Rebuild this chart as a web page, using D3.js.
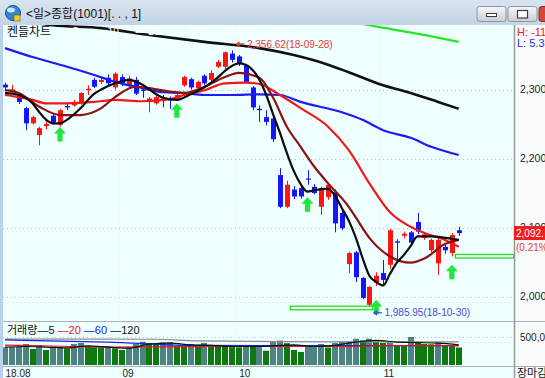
<!DOCTYPE html>
<html>
<head>
<meta charset="utf-8">
<script src="https://cdn.jsdelivr.net/npm/d3@7"></script>
<style>
  body { margin: 0; overflow: hidden; background: #fff; }
  svg { display: block; font-family: "Liberation Sans", "Noto Sans CJK KR", sans-serif; }
</style>
</head>
<body>
<svg width="545" height="378"></svg>
<script>
// daily candles [open, high, low, close], 18-08-08 .. 18-11-16
const candles = [
  [2307, 2310, 2300, 2303], [2296, 2307, 2294, 2300], [2289, 2291, 2279, 2282], [2273, 2275, 2241, 2251],
  [2251, 2262, 2249, 2260], [2234, 2246, 2219, 2244], [2247, 2255, 2242, 2250], [2262, 2266, 2249, 2252],
  [2249, 2272, 2246, 2270], [2276, 2280, 2270, 2274], [2277, 2285, 2275, 2282], [2280, 2296, 2278, 2295],
  [2299, 2306, 2292, 2301], [2314, 2317, 2302, 2304], [2311, 2318, 2308, 2314], [2317, 2322, 2306, 2309],
  [2303, 2325, 2300, 2323], [2318, 2322, 2305, 2309], [2305, 2320, 2302, 2316], [2314, 2318, 2292, 2294],
  [2300, 2303, 2288, 2298], [2282, 2289, 2267, 2287], [2280, 2291, 2278, 2289], [2287, 2292, 2274, 2284],
  [2286, 2290, 2272, 2284], [2287, 2294, 2284, 2292], [2306, 2320, 2304, 2318], [2315, 2317, 2300, 2303],
  [2302, 2313, 2298, 2311], [2320, 2322, 2306, 2309], [2314, 2328, 2311, 2324], [2333, 2343, 2331, 2340],
  [2333, 2355, 2330, 2354], [2352, 2356.62, 2339, 2343], [2348, 2350, 2334, 2338], [2335, 2337, 2309, 2311],
  [2303, 2305, 2270, 2274], [2272, 2277, 2253, 2270], [2260, 2270, 2248, 2253], [2258, 2262, 2224, 2228],
  [2176, 2186, 2128, 2130], [2130, 2168, 2128, 2162], [2155, 2160, 2141, 2145], [2157, 2160, 2142, 2145],
  [2171, 2183, 2162, 2170], [2159, 2163, 2148, 2150], [2130, 2159, 2118, 2157], [2144, 2165, 2140, 2162],
  [2151, 2155, 2093, 2106], [2121, 2124, 2096, 2099], [2047, 2065, 2034, 2063], [2064, 2066, 2021, 2028],
  [2027, 2028, 1996, 1998], [1988, 2015, 1985.95, 2014], [2020, 2035, 2015, 2030], [2034, 2053, 2018, 2024],
  [2046, 2098, 2040, 2096], [2080, 2083, 2049, 2078], [2088, 2094, 2084, 2091], [2093, 2095, 2075, 2078],
  [2108, 2121, 2090, 2094], [2085, 2093, 2082, 2090], [2067, 2084, 2064, 2082], [2048, 2085, 2031, 2082],
  [2072, 2075, 2062, 2067], [2063, 2092, 2058, 2089], [2096, 2101, 2088, 2092]
];
// volume, thousand shares
const volumes = [
  316, 320, 325, 375, 286, 357, 268, 316, 320, 298, 375, 393, 334, 316, 310, 334, 298, 268, 316, 375,
  416, 393, 375, 405, 410, 345, 334, 375, 345, 393, 334, 330, 325, 320, 315, 345, 334, 340, 255, 418,
  437, 390, 268, 232, 343, 357, 375, 312, 393, 418, 420, 468, 437, 470, 418, 393, 405, 357, 350, 500,
  393, 375, 370, 405, 357, 350, 312
];

// moving averages as [day index, value]
const ma5 = [[0,2295],[2,2292],[4,2280],[5,2267],[6,2256],[7,2251],[8,2251],[9,2256],[11,2273],[13,2294],
  [14,2300],[16,2309],[18,2314],[20,2307],[22,2293],[23,2288],[25,2285],[27,2293],[29,2303],[31,2318],
  [32,2327],[34,2338],[35,2336],[37,2314],[38,2292],[39,2264],[40,2237],[41,2208],[42,2182],[43,2163],
  [44,2152],[45,2154],[47,2156],[48,2146],[49,2128],[50,2110],[51,2086],[52,2056],[53,2030],[54,2021],
  [55,2016],[56,2033],[57,2049],[58,2060],[59,2073],[60,2087],[62,2087],[64,2085],[66,2082]];
const ma10 = [[0,2299],[2,2295],[5,2275],[8,2263],[11,2263],[14,2273],[16,2289],[19,2304],[21,2302],
  [24,2297],[26,2295],[29,2304],[32,2318],[34,2324],[37,2317],[39,2288],[41,2246],[43,2217],[45,2188],
  [47,2164],[50,2130],[51,2115],[53,2085],[56,2058],[59,2049],[61,2055],[64,2076],[66,2082]];
const ma20 = [[0,2292],[2,2289],[4,2285],[6,2280],[9,2280],[13,2282],[16,2285],[20,2283],[24,2286],
  [26,2292],[29,2299],[32,2309],[35,2310],[37,2308],[40,2292],[43,2273],[47,2246],[50,2212],[53,2164],
  [56,2122],[59,2101],[61,2092],[64,2082],[66,2072]];
const ma60 = [[0,2360],[4,2347],[9,2333],[13,2321],[16,2311],[20,2302],[23,2296],[26,2295],[29,2292],
  [33,2292],[37,2293],[40,2292],[43,2282],[49,2267],[52,2256],[55,2241],[59,2230],[62,2217],[66,2205]];
const ma120 = [[0,2404],[7,2393],[14,2389],[21,2379],[29,2369],[37,2360],[42,2350],[47,2336],[50,2325],
  [55,2306],[59,2295],[63,2282],[66,2272]];
const ma240 = [[42,2420],[52,2395],[57,2386],[62,2377],[66,2369]];

const volMa5 = [[0,320],[3,330],[6,320],[9,305],[12,340],[15,320],[18,300],[21,375],[24,390],[27,360],
  [30,350],[33,330],[36,330],[39,340],[42,360],[45,330],[48,350],[51,410],[54,440],[57,410],[60,400],
  [63,390],[66,360]];
const volMa20 = [[0,355],[8,335],[16,320],[24,325],[32,330],[40,330],[48,330],[56,345],[66,345]];
const volMa60 = [[0,450],[8,425],[17,400],[26,352],[43,345],[66,345]];
const volMa120 = [[0,462],[22,460],[28,430],[40,418],[66,412]];

const monthIdx = [0, 17, 34, 55];
const monthLabels = ['18.08', '09', '10', '11'];
const priceTicks = [2000, 2100, 2200, 2300];
const volTicks = [500];

const buySignals = [[8, 2245.6], [25, 2280], [44, 2144], [54, 1995], [65, 2046]];
const supportBoxes = [[41.5, 53.5, 1983], [65.5, 74, 2058]];
const highMark = { i: 33, v: 2356.62, text: '2,356.62(18-09-28)' };
const lowMark = { i: 53, v: 1985.95, text: '1,985.95(18-10-30)' };
const lastChange = '(0.21%)';

const svg = d3.select('svg');
const x = d3.scaleLinear().domain([0, 74]).range([5, 513.75]);
const y = d3.scaleLinear().domain([2000, 2300]).range([296.5, 89.5]);
const yv = d3.scaleLinear().domain([0, 500]).range([365, 337]);
const upColor = '#ff1414';
const downColor = '#1414ff';
const fmt = d3.format(',');

// ---- window chrome
const defs = svg.append('defs');
const tg = defs.append('linearGradient').attr('id', 'title-bg').attr('x1', 0).attr('y1', 0).attr('x2', 0).attr('y2', 1);
tg.append('stop').attr('offset', 0).attr('stop-color', '#d9e4f0');
tg.append('stop').attr('offset', 1).attr('stop-color', '#c3d4e7');
const bg = defs.append('linearGradient').attr('id', 'btn-bg').attr('x1', 0).attr('y1', 0).attr('x2', 0).attr('y2', 1);
bg.append('stop').attr('offset', 0).attr('stop-color', '#f6f7f9');
bg.append('stop').attr('offset', 1).attr('stop-color', '#c9ced6');
defs.append('clipPath').attr('id', 'price-clip')
  .append('rect').attr('x', 3).attr('y', 25).attr('width', 511).attr('height', 296);
defs.append('clipPath').attr('id', 'vol-clip')
  .append('rect').attr('x', 3).attr('y', 321).attr('width', 511).attr('height', 45);

svg.append('rect').attr('width', 545).attr('height', 25).attr('fill', 'url(#title-bg)');
svg.append('rect').attr('x', 3).attr('y', 25).attr('width', 511).attr('height', 353).attr('fill', '#effefe');
svg.append('rect').attr('x', 514).attr('y', 25).attr('width', 31).attr('height', 353).attr('fill', '#f7fbfb');
svg.append('rect').attr('x', 0).attr('y', 25).attr('width', 3).attr('height', 353).attr('fill', '#b9d1ea');

const icon = svg.append('g');
icon.append('circle').attr('cx', 13).attr('cy', 13).attr('r', 7.5).attr('fill', '#2f86d6').attr('stroke', '#1a4f86');
icon.append('ellipse').attr('cx', 11).attr('cy', 10).attr('rx', 4).attr('ry', 2.5).attr('fill', '#cfe6fb');
icon.append('rect').attr('x', 14).attr('y', 15).attr('width', 6).attr('height', 6).attr('fill', '#f4d21a').attr('stroke', '#6b5a00').attr('stroke-width', 0.6);
svg.append('text').attr('x', 26).attr('y', 18).attr('font-size', 12).attr('fill', '#111')
  .text('<일>종합(1001)[. . , 1]');

[477, 508, 539].forEach((bx, k) => {
  svg.append('rect').attr('x', bx).attr('y', 6.5).attr('width', 29).attr('height', 15).attr('rx', 2.5)
    .attr('fill', k === 2 ? '#cf4a3a' : 'url(#btn-bg)').attr('stroke', k === 2 ? '#8a2a20' : '#8b95a3');
});
svg.append('rect').attr('x', 486.5).attr('y', 13.5).attr('width', 10).attr('height', 3).attr('fill', '#fff').attr('stroke', '#3c3c3c');
svg.append('rect').attr('x', 517.5).attr('y', 10.5).attr('width', 10).attr('height', 7.5).attr('fill', '#fff').attr('stroke', '#3c3c3c').attr('stroke-width', 1.2);

// ---- gridlines
svg.append('g').selectAll('line').data(priceTicks).join('line')
  .attr('x1', 3).attr('x2', 514)
  .attr('y1', d => Math.round(y(d)) + 0.5).attr('y2', d => Math.round(y(d)) + 0.5)
  .attr('stroke', '#b4c2c2').attr('stroke-dasharray', '1,3');
svg.append('g').selectAll('line').data(monthIdx.slice(1)).join('line')
  .attr('x1', d => Math.round(x(d) - 3.4) + 0.5).attr('x2', d => Math.round(x(d) - 3.4) + 0.5)
  .attr('y1', 25).attr('y2', 366)
  .attr('stroke', '#dbe6e6').attr('stroke-dasharray', '1,2');
svg.append('g').selectAll('line').data(volTicks).join('line')
  .attr('x1', 3).attr('x2', 514)
  .attr('y1', d => Math.round(yv(d)) + 0.5).attr('y2', d => Math.round(yv(d)) + 0.5)
  .attr('stroke', '#b4c2c2').attr('stroke-dasharray', '1,3');

// ---- candles
const colorOf = d => d[3] >= d[0] ? upColor : downColor;
const price = svg.append('g').attr('clip-path', 'url(#price-clip)');
price.append('g').selectAll('line').data(candles).join('line')
  .attr('x1', (d, i) => Math.round(x(i)) + 0.5).attr('x2', (d, i) => Math.round(x(i)) + 0.5)
  .attr('y1', d => y(d[1])).attr('y2', d => y(d[2]))
  .attr('stroke', colorOf);
price.append('g').selectAll('rect').data(candles).join('rect')
  .attr('x', (d, i) => Math.round(x(i)) - 2)
  .attr('width', 5)
  .attr('y', d => y(Math.max(d[0], d[3])))
  .attr('height', d => Math.max(1.2, Math.abs(y(d[0]) - y(d[3]))))
  .attr('fill', colorOf);

// ---- moving averages
const line = d3.line().x(d => x(d[0])).y(d => y(d[1])).curve(d3.curveMonotoneX);
[
  [ma120, '#111', 2.6],
  [ma240, '#24e824', 2.2],
  [ma60, '#1c1cf0', 2.2],
  [ma20, '#f01818', 2.2],
  [ma10, '#8a1414', 2.2],
  [ma5, '#0c0c0c', 2.2]
].forEach(([data, color, w]) => {
  price.append('path').datum(data).attr('d', line)
    .attr('fill', 'none').attr('stroke', color).attr('stroke-width', w).attr('stroke-linejoin', 'round');
});

// ---- support boxes and buy signals
price.append('g').selectAll('rect').data(supportBoxes).join('rect')
  .attr('x', d => x(d[0])).attr('width', d => x(d[1]) - x(d[0]))
  .attr('y', d => y(d[2]) - 2).attr('height', 3.5)
  .attr('fill', '#f2fff2').attr('stroke', '#22dd22').attr('stroke-width', 1.3);
price.append('g').selectAll('path').data(buySignals).join('path')
  .attr('transform', d => `translate(${x(d[0])},${y(d[1])})`)
  .attr('d', 'M0,0L6,6.5L2.6,6.5L2.6,14.5L-2.6,14.5L-2.6,6.5L-6,6.5Z')
  .attr('fill', '#1ee83c');

// ---- high / low labels
[[highMark, '#e83a3a', -6.5], [lowMark, '#4a4ad8', 6.5]].forEach(([m, color, dy]) => {
  const tx = x(m.i) + 3.6;
  const ty = y(m.v) + dy;
  const g = svg.append('g');
  g.append('path').attr('d', `M${tx},${ty}L${tx + 4},${ty - 3}L${tx + 4},${ty + 3}Z`).attr('fill', color);
  g.append('line').attr('x1', tx + 3).attr('x2', tx + 9).attr('y1', ty).attr('y2', ty)
    .attr('stroke', color).attr('stroke-width', 1.2);
  g.append('text').attr('x', tx + 11.5).attr('y', ty).attr('dy', '0.36em')
    .attr('font-size', 10).attr('fill', color).text(m.text);
});

// ---- volume
const vol = svg.append('g').attr('clip-path', 'url(#vol-clip)');
vol.append('g').selectAll('rect').data(volumes).join('rect')
  .attr('x', (d, i) => Math.round(x(i)) - 3)
  .attr('width', 6)
  .attr('y', d => yv(d))
  .attr('height', d => yv(0) - yv(d))
  .attr('fill', (d, i) => i === 0 || d >= volumes[i - 1] ? '#4f8383' : '#0f790f');
const vline = d3.line().x(d => x(d[0])).y(d => yv(d[1])).curve(d3.curveMonotoneX);
[
  [volMa120, '#8a8a8a'],
  [volMa60, '#2020e0'],
  [volMa20, '#e01818'],
  [volMa5, '#111']
].forEach(([data, color]) => {
  vol.append('path').datum(data).attr('d', vline)
    .attr('fill', 'none').attr('stroke', color).attr('stroke-width', 1.2);
});

// ---- panel separators
svg.append('line').attr('x1', 3).attr('x2', 545).attr('y1', 321.5).attr('y2', 321.5).attr('stroke', '#a9b0b0');
svg.append('line').attr('x1', 3).attr('x2', 545).attr('y1', 366.5).attr('y2', 366.5).attr('stroke', '#a9b0b0');
svg.append('line').attr('x1', 514.5).attr('x2', 514.5).attr('y1', 25).attr('y2', 378).attr('stroke', '#999').attr('stroke-width', 1.5);

// ---- axes
const yAxis = svg.append('g').attr('transform', 'translate(514,0)')
  .call(d3.axisRight(y).tickValues(priceTicks).tickSize(0).tickPadding(6).tickFormat(fmt));
yAxis.select('.domain').remove();
yAxis.selectAll('text').attr('font-size', 10.5).attr('fill', '#1e1e1e')
  .attr('font-family', '"Liberation Sans", sans-serif');

const vAxis = svg.append('g').attr('transform', 'translate(514,0)')
  .call(d3.axisRight(yv).tickValues(volTicks).tickSize(0).tickPadding(6).tickFormat(d => fmt(d * 1000)));
vAxis.select('.domain').remove();
vAxis.selectAll('text').attr('font-size', 10).attr('fill', '#1e1e1e')
  .attr('font-family', '"Liberation Sans", sans-serif');

const xAxis = svg.append('g').attr('transform', 'translate(0,366)')
  .call(d3.axisBottom(x).tickValues(monthIdx).tickSize(0).tickPadding(3.5).tickFormat((d, i) => monthLabels[i]));
xAxis.select('.domain').remove();
xAxis.selectAll('text').attr('text-anchor', 'start').attr('font-size', 10).attr('fill', '#1e1e1e')
  .attr('font-family', '"Liberation Sans", sans-serif');

// last price box
const last = candles[candles.length - 1][3];
svg.append('rect').attr('x', 514).attr('y', y(last) - 7).attr('width', 31).attr('height', 14).attr('fill', '#f01e1e');
svg.append('text').attr('x', 516).attr('y', y(last)).attr('dy', '0.36em')
  .attr('font-size', 10).attr('fill', '#fff').text(fmt(last) + '.');
svg.append('text').attr('x', 516).attr('y', y(last) + 14.5).attr('dy', '0.36em')
  .attr('font-size', 10).attr('fill', '#e83a3a').text(lastChange);

// ---- labels
svg.append('text').attr('x', 7).attr('y', 36).attr('font-size', 12).attr('fill', '#111').text('켄들차트');
svg.append('text').attr('x', 60).attr('y', 35).attr('font-size', 10).attr('fill', '#ffffff')
  .style('white-space', 'pre').text('— 5      — 10      — 20      — 60      — 120      — 240');
svg.append('text').attr('x', 517).attr('y', 36).attr('font-size', 11).attr('fill', '#e82020').text('H: -11');
svg.append('text').attr('x', 517).attr('y', 47).attr('font-size', 11).attr('fill', '#3030e0').text('L: 5.3');

const legend = svg.append('text').attr('x', 7).attr('y', 334).attr('font-size', 11).attr('fill', '#111');
legend.append('tspan').text('거래량');
legend.append('tspan').text('—5 ');
legend.append('tspan').attr('fill', '#e82020').text('—20 ');
legend.append('tspan').attr('fill', '#2020e0').text('—60 ');
legend.append('tspan').text('—120');

svg.append('text').attr('x', 517).attr('y', 377).attr('font-size', 11).attr('fill', '#111').text('장마감');
</script>
</body>
</html>
